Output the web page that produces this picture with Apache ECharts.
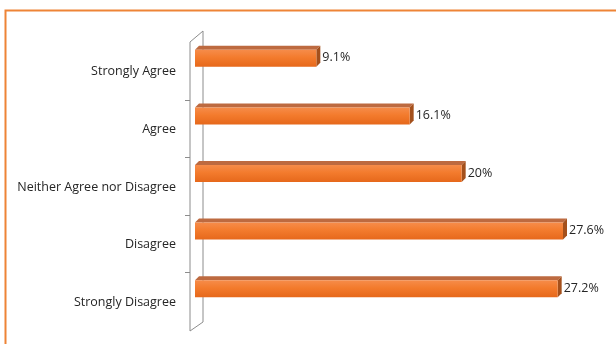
<!DOCTYPE html>
<html>
<head>
<meta charset="utf-8">
<script src="https://cdn.jsdelivr.net/npm/echarts@6/dist/echarts.min.js"></script>
<style>
html,body{margin:0;padding:0;background:#fff;}
#c{width:616px;height:344px;}
</style>
</head>
<body>
<div id="c"></div>
<script>
var categories = ['Strongly Agree', 'Agree', 'Neither Agree nor Disagree', 'Disagree', 'Strongly Disagree'];
var values = [9.1, 16.1, 20, 27.6, 27.2];
var valueLabels = ['9.1%', '16.1%', '20%', '27.6%', '27.2%'];

var chart = echarts.init(document.getElementById('c'), null, {renderer: 'canvas'});
var FONT = '"Open Sans", "Noto Sans", sans-serif';
var DX = 4, DY = 4;

var option = {
  animation: false,
  backgroundColor: '#ffffff',
  grid: {left: 195, right: 21, top: 29, bottom: 27, containLabel: false},
  xAxis: {type: 'value', min: 0, max: 30, show: false},
  yAxis: {
    type: 'category', data: categories, inverse: true,
    axisLine: {show: false}, axisTick: {show: false}, splitLine: {show: false},
    axisLabel: {
      margin: 19, color: '#262626', fontSize: 12.5, fontFamily: FONT,
      verticalAlign: 'top', lineHeight: 28
    }
  },
  series: [{
    type: 'custom',
    data: values.map(function (v, i) { return [v, i]; }),
    encode: {x: 0, y: 1},
    renderItem: function (params, api) {
      var v = api.value(0), idx = api.value(1);
      var s = api.coord([0, idx]);
      var e = api.coord([v, idx]);
      var c = s[1];
      var x0 = s[0], x1 = e[0];
      var y0 = c - 8, y1 = c + 9;
      return {
        type: 'group',
        children: [
          {type: 'polygon', shape: {points: [[x0, y0], [x0 + DX, y0 - DY], [x1 + DX, y0 - DY], [x1, y0]]},
           style: {fill: '#BD6A40'}},
          {type: 'polygon', shape: {points: [[x1, y0], [x1 + DX, y0 - DY], [x1 + DX, y1 - DY], [x1, y1]]},
           style: {fill: '#A4501C'}},
          {type: 'rect', shape: {x: x0, y: y0, width: x1 - x0, height: y1 - y0},
           style: {fill: new echarts.graphic.LinearGradient(0, 0, 0, 1, [
             {offset: 0, color: '#F68C4A'}, {offset: 0.45, color: '#F37B2D'}, {offset: 1, color: '#E6681B'}])}},
          {type: 'text', x: x1 + DX + 2, y: c,
           style: {text: valueLabels[params.dataIndex], fill: '#262626', font: '12.5px ' + FONT,
                   verticalAlign: 'middle', align: 'left'}}
        ]
      };
    }
  }]
};
chart.setOption(option);

// 3D wall + frame, derived from the grid rectangle
var rect = chart.getModel().getComponent('grid').coordinateSystem.getRect();
var band = rect.height / categories.length;
var backX = rect.x + 8, frontX = rect.x - 5;
var backTop = rect.y + 2, frontTop = rect.y + 13;
var backBot = rect.y + rect.height + 5, frontBot = rect.y + rect.height + 14;
var wallStyle = {stroke: '#8c8c8c', lineWidth: 1, fill: null};
var g = [
  {type: 'rect', shape: {x: 5.5, y: 10.5, width: 800, height: 600}, style: {stroke: '#EE8436', lineWidth: 2, fill: null}, z: 100},
  {type: 'polyline', shape: {points: [[frontX, frontBot], [frontX, frontTop], [backX, backTop], [backX, backBot], [frontX, frontBot]]}, style: wallStyle, z: -1}
];
for (var i = 1; i < categories.length; i++) {
  var ty = Math.round(frontTop + band * i) + 0.5;
  g.push({type: 'line', shape: {x1: frontX - 5, y1: ty, x2: frontX, y2: ty}, style: wallStyle, z: -1});
}
chart.setOption({graphic: g});
</script>
</body>
</html>
